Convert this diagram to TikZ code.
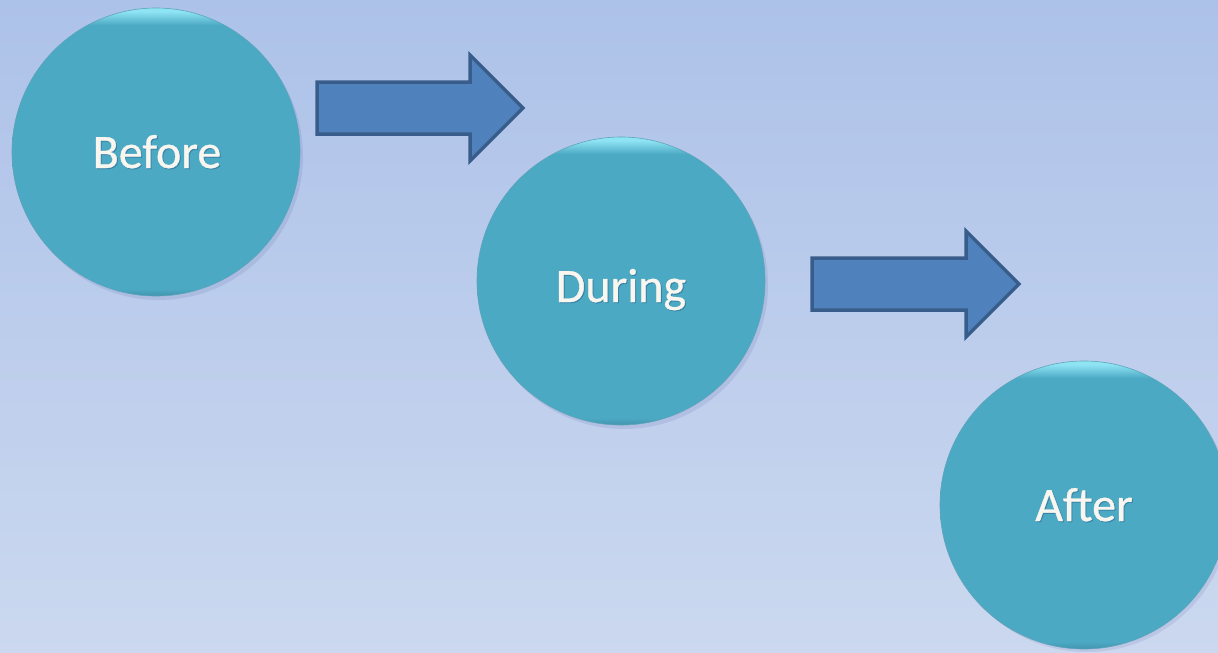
\documentclass[tikz,border=0pt]{standalone}
\usepackage{fontspec}
\setmainfont{Carlito}
\newfontfamily\labelfont[FakeBold=0.7]{Carlito}
\definecolor{bgtop}{HTML}{ADC2E9}
\definecolor{bgbot}{HTML}{CBD8EF}
\definecolor{cbase}{HTML}{4BA9C3}
\definecolor{cdark}{HTML}{4294AE}
\definecolor{clight}{HTML}{8FE4F4}
\definecolor{arrfill}{HTML}{4F81BD}
\definecolor{arrline}{HTML}{385D8A}
\definecolor{txt}{HTML}{F8F6EE}
\pgfdeclareverticalshading{ballshade}{100bp}{color(0bp)=(cdark); color(25bp)=(cdark); color(26.2bp)=(cbase); color(72bp)=(cbase); color(74.4bp)=(clight); color(75bp)=(clight); color(100bp)=(clight)}
\tikzset{
  ball/.style={circle, minimum size=288pt, inner sep=0pt, shading=ballshade, draw=cdark!85, line width=0.6pt},
  balltext/.style={text=txt, font=\labelfont\fontsize{48}{56}\selectfont, anchor=base},
  shadowtext/.style={text=black!70!blue, opacity=0.18, font=\labelfont\fontsize{48}{56}\selectfont, anchor=base},
  shadowball/.style={circle, minimum size=288pt, inner sep=0pt, fill=black!60!blue, opacity=0.08},
  blockarrow/.style={fill=arrfill, draw=arrline, line width=3.5pt, line join=miter}
}
\begin{document}
\begin{tikzpicture}[x=1pt,y=-1pt]
\useasboundingbox (0,0) rectangle (1218,653);
\clip (0,0) rectangle (1218,653);
\shade[top color=bgtop, bottom color=bgbot] (0,0) rectangle (1218,653);
% shadows
\node[shadowball] at (159,156) {};
\node[shadowball] at (624,285) {};
\node[shadowball] at (1087,508) {};
% circles
\node[ball] (before) at (156,152) {};
\node[ball] (during) at (621,281) {};
\node[ball] (after) at (1084,505) {};
\node[shadowtext] at (158,169) {Before};
\node[shadowtext] at (622,303) {During};
\node[shadowtext] at (1085,522) {After};
\node[balltext] (tbefore) at (157,168) {Before};
\node[balltext] (tduring) at (621,302) {During};
\node[balltext] (tafter) at (1084,521) {After};
% block arrows
\draw[blockarrow] (317,82) -- (470,82) -- (470,55) -- (523,108) -- (470,161) -- (470,134) -- (317,134) -- cycle;
\draw[blockarrow] (812,258) -- (966,258) -- (966,231) -- (1019,284) -- (966,337) -- (966,310) -- (812,310) -- cycle;
\end{tikzpicture}
\end{document}
